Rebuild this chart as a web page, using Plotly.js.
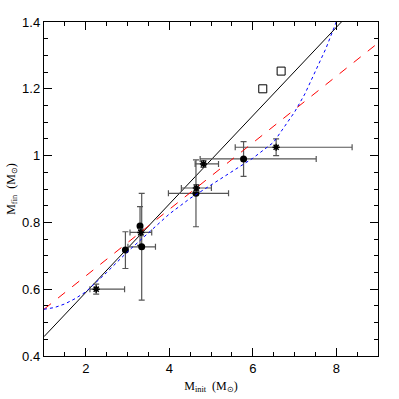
<!DOCTYPE html>
<html>
<head>
<meta charset="utf-8">
<script src="https://cdn.plot.ly/plotly-3.0.1.min.js"></script>
<style>
  html, body { margin: 0; padding: 0; background: white; }
  #chart { width: 399px; height: 399px; }
</style>
</head>
<body>
<div id="chart"></div>
<script>
// filled circles
const circX = [2.95, 3.30, 3.34, 4.64, 5.78];
const circY = [0.717, 0.789, 0.727, 0.887, 0.990];
const circYErr = [0.055, 0.058, 0.160, 0.100, 0.052];
const circXErrPlus = [0, 0, 0.33, 0.78, 1.74];
const circXErrMinus = [0, 0, 0.33, 0.66, 1.04];

// stars
const starX = [2.25, 3.32, 4.65, 4.82, 6.56];
const starY = [0.600, 0.770, 0.903, 0.975, 1.025];
const starYErr = [0.015, 0.010, 0.010, 0.010, 0.025];
const starXErrPlus = [0.68, 0.26, 0.36, 0.36, 1.82];
const starXErrMinus = [0.15, 0.26, 0.36, 0.20, 0.98];

// open squares
const sqX = [6.24, 6.68];
const sqY = [1.200, 1.253];

// black solid line
const solidX = [1, 9];
const solidY = [0.458, 1.516];

// red dashed line
const dashX = [1, 9];
const dashY = [0.540, 1.337];

// blue dotted curve
const dotX = [1, 1.25, 1.5, 1.75, 2, 2.5, 3, 3.5, 4, 4.5, 5, 5.5, 6, 6.5, 7, 7.25, 7.5, 7.75, 8];
const dotY = [0.540, 0.545, 0.556, 0.572, 0.592, 0.650, 0.712, 0.770, 0.825, 0.872, 0.912, 0.950, 0.992, 1.040, 1.130, 1.185, 1.250, 1.320, 1.40];

const errColor = '#555555';

const traces = [
    {
        x: solidX, y: solidY, type: 'scatter', mode: 'lines',
        line: { color: 'black', width: 1 }, hoverinfo: 'skip'
    },
    {
        x: circX, y: circY, type: 'scatter', mode: 'markers',
        marker: { symbol: 'circle', size: 7, color: 'black' },
        error_y: { type: 'data', array: circYErr, color: errColor, thickness: 1.2, width: 3 },
        error_x: { type: 'data', array: circXErrPlus, arrayminus: circXErrMinus, color: errColor, thickness: 1.2, width: 3 }
    },
    {
        x: starX, y: starY, type: 'scatter', mode: 'markers',
        marker: { symbol: 'asterisk-open', size: 6, color: 'black', line: { color: 'black', width: 1.5 } },
        error_y: { type: 'data', array: starYErr, color: errColor, thickness: 1.2, width: 3 },
        error_x: { type: 'data', array: starXErrPlus, arrayminus: starXErrMinus, color: errColor, thickness: 1.2, width: 3 }
    },
    {
        x: sqX, y: sqY, type: 'scatter', mode: 'markers',
        marker: { symbol: 'square-open', size: 8, color: 'black', line: { width: 1 } }
    },
    {
        x: dashX, y: dashY, type: 'scatter', mode: 'lines',
        line: { color: 'red', width: 1, dash: 'dash' }, hoverinfo: 'skip'
    },
    {
        x: dotX, y: dotY, type: 'scatter', mode: 'lines',
        line: { color: 'blue', width: 1, dash: 'dot' }, hoverinfo: 'skip'
    }
];

const axisCommon = {
    showgrid: false,
    zeroline: false,
    showline: true,
    linecolor: 'black',
    linewidth: 1.2,
    mirror: 'allticks',
    ticks: 'inside',
    ticklen: 8,
    tickwidth: 1,
    tickcolor: 'black',
    tickfont: { family: 'Liberation Sans, Arial, sans-serif', size: 13, color: 'black' }
};

const layout = {
    width: 399,
    height: 399,
    margin: { l: 44, r: 21, t: 22, b: 43 },
    showlegend: false,
    plot_bgcolor: 'white',
    paper_bgcolor: 'white',
    xaxis: Object.assign({}, axisCommon, {
        range: [1, 9],
        tickvals: [2, 4, 6, 8],
        ticktext: ['2', '4', '6', '8'],
        minor: { dtick: 0.5, ticks: 'inside', ticklen: 4, tickcolor: 'black', tickwidth: 1 },
        title: { text: 'M<sub>init</sub>  (M<sub>⊙</sub>)', font: { family: 'Liberation Serif, Times New Roman, serif', size: 12, color: 'black' }, standoff: 6 }
    }),
    yaxis: Object.assign({}, axisCommon, {
        range: [0.4, 1.4],
        tickvals: [0.4, 0.6, 0.8, 1, 1.2, 1.4],
        ticktext: ['0.4', '0.6', '0.8', '1', '1.2', '1.4'],
        minor: { dtick: 0.05, ticks: 'inside', ticklen: 4, tickcolor: 'black', tickwidth: 1 },
        title: { text: 'M<sub>fin</sub>  (M<sub>⊙</sub>)', font: { family: 'Liberation Serif, Times New Roman, serif', size: 12, color: 'black' }, standoff: 4 }
    })
};

Plotly.newPlot('chart', traces, layout, { displayModeBar: false, staticPlot: true });
</script>
</body>
</html>
